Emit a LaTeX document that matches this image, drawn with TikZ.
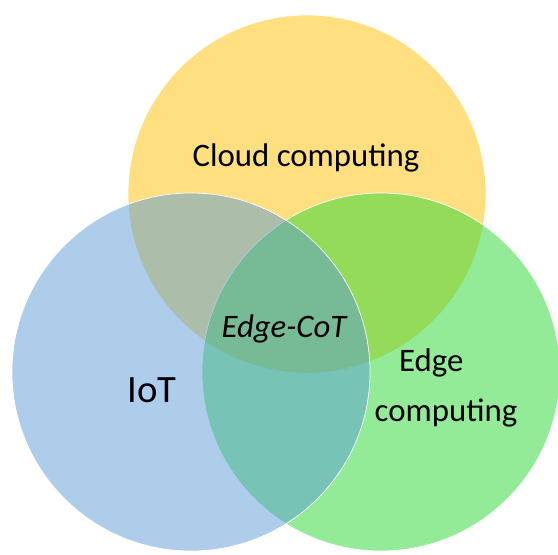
\documentclass[tikz,border=0pt]{standalone}
\usepackage{fontspec}
\setmainfont{Carlito}
\definecolor{cloudc}{RGB}{255,192,0}
\definecolor{edgec}{RGB}{40,215,50}
\definecolor{iotc}{RGB}{91,155,213}
\begin{document}
\begin{tikzpicture}[x=0.03cm,y=-0.03cm,
    set/.style={draw=white,line width=0.6pt,fill opacity=0.5},
    lbl/.style={text=black,inner sep=0pt,font=\fontsize{28}{43}\selectfont}]
  \useasboundingbox (0,0) rectangle (558,554);

  % the three sets, bottom one first
  \foreach \col/\x/\y in {cloudc/307/194, edgec/381/372, iotc/191/372}
    \filldraw[set,fill=\col] (\x,\y) circle [radius=5.37cm];

  \node[lbl] (cloud) at (306,158) {Cloud computing};
  \node[lbl,font=\fontsize{33}{40}\selectfont] (iot) at (152,390) {IoT};
  \node[lbl,align=center] (edge) at (446,388) {\hspace*{-0.9em}Edge\\computing};
  \node[lbl,font=\itshape\fontsize{28}{32}\selectfont] (cot) at (284,329) {Edge-CoT};
\end{tikzpicture}
\end{document}
